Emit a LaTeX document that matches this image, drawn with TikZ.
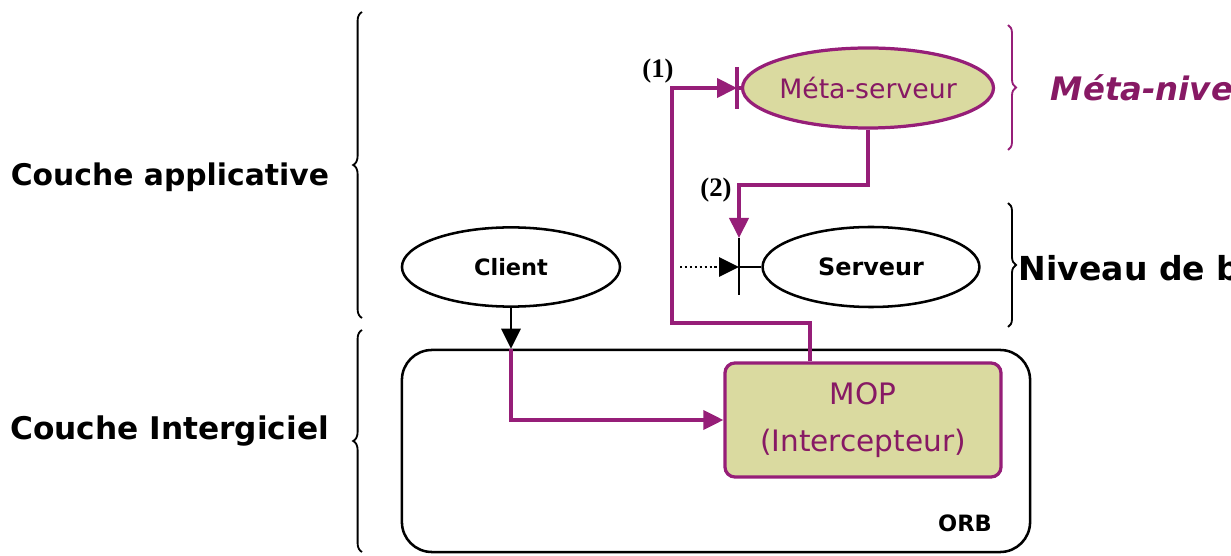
\documentclass[tikz,border=0pt]{standalone}
\usepackage{fontspec}
\setmainfont{DejaVu Sans}
\newfontfamily\serifb{Liberation Serif}
\usetikzlibrary{shapes.geometric,arrows.meta,decorations.pathreplacing,calc}
\definecolor{mag}{RGB}{150,30,120}
\definecolor{magtxt}{RGB}{135,25,100}
\definecolor{khaki}{RGB}{218,218,160}
\tikzset{
  magline/.style={draw=mag,line width=2.3pt},
  blkline/.style={draw=black,line width=1.8pt},
  tri/.style={-{Triangle[length=0.5cm,width=0.48cm]}},
  ell/.style={ellipse,draw,line width=1.8pt,inner sep=0pt},
  metaell/.style={ell,draw=mag,fill=khaki,text=magtxt},
  layer/.style={font=\fontsize{21.2}{24}\selectfont\bfseries,anchor=east},
  brc/.style={decorate,line width=1.3pt},
}
\begin{document}
\begin{tikzpicture}[x=0.025cm,y=-0.025cm]
\useasboundingbox (0,0) rectangle (1231,556);
\clip (0,0) rectangle (1231,556);
% layer labels and braces
\node[layer] (capp) at (334,177) {Couche applicative};
\node[layer,font=\fontsize{22.2}{24}\selectfont\bfseries] (cint) at (334,431) {Couche Intergiciel};
\draw[brc,decoration={brace,amplitude=0.22cm}] (362,318) -- (362,12);
\draw[brc,decoration={brace,amplitude=0.22cm}] (362,552) -- (362,330);
% ORB
\node[draw,line width=1.8pt,rounded corners=0.75cm,minimum width=15.7cm,minimum height=5.05cm] (orb) at (716,451) {};
\node[font=\fontsize{16}{18}\selectfont\bfseries] (orbl) at (965,523) {ORB};
% MOP
\node[draw=mag,fill=khaki,line width=2.3pt,rounded corners=0.25cm,minimum width=6.9cm,minimum height=2.85cm,text=magtxt,align=center,font=\fontsize{21}{33}\selectfont] (mop) at (863,420) {MOP\\(Intercepteur)};
% ellipses
\node[ell,minimum width=5.45cm,minimum height=1.98cm,font=\fontsize{16}{18}\selectfont\bfseries] (client) at (511,267) {Client};
\node[metaell,line width=2.3pt,minimum width=5.25cm,minimum height=2cm,font=\fontsize{19}{20}\selectfont] (meta) at (868,88) {Méta-serveur};
\node[ell,minimum width=5.42cm,minimum height=2cm,font=\fontsize{17}{20}\selectfont\bfseries] (serv) at (871,267) {Serveur};
% bars
\coordinate (barM) at (737,88);
\coordinate (barS) at (739,267);
\draw[magline] ($(barM)+(0,-21)$) -- ($(barM)+(0,21)$);
\draw[blkline] ($(barS)+(0,-29)$) -- ($(barS)+(0,28)$);
\draw[magline] (barM) -- (meta.west);
\draw[blkline] (barS) -- (serv.west);
% client to ORB
\draw[blkline,tri] (client.south) -- (client.south |- orb.north);
\draw[magline,tri] (client.south |- orb.north) |- (mop.west);
% MOP to meta-serveur
\coordinate (c1) at (810,323);
\coordinate (c2) at (672,323);
\draw[magline,tri] (mop.north -| c1) |- (c2) |- (barM);
% meta-serveur to serveur
\coordinate (c3) at (739,185);
\draw[magline,tri] (meta.south) |- (c3) -- ($(barS)+(0,-29)$);
% dotted incoming
\coordinate (din) at (680,267);
\draw[line width=1.5pt,dotted,-{Triangle[length=0.5cm,width=0.48cm]}] (din) -- (barS);
% step labels
\node[font=\serifb\fontsize{19}{20}\selectfont\bfseries] (l1) at (658,71) {(1)};
\node[font=\serifb\fontsize{19}{20}\selectfont\bfseries] (l2) at (716,190) {(2)};
% right braces
\draw[brc,draw=mag,decoration={brace,amplitude=0.2cm}] (1008,25) -- (1008,150);
\draw[brc,decoration={brace,amplitude=0.2cm}] (1008,203) -- (1008,327);
\node[anchor=west,text=magtxt,font=\fontsize{23}{24}\selectfont\bfseries\itshape] (mn) at (1046,88) {Méta-niveau};
\node[anchor=west,font=\fontsize{23.5}{24}\selectfont\bfseries] (nb) at (1014,268) {Niveau de base};
\end{tikzpicture}
\end{document}
